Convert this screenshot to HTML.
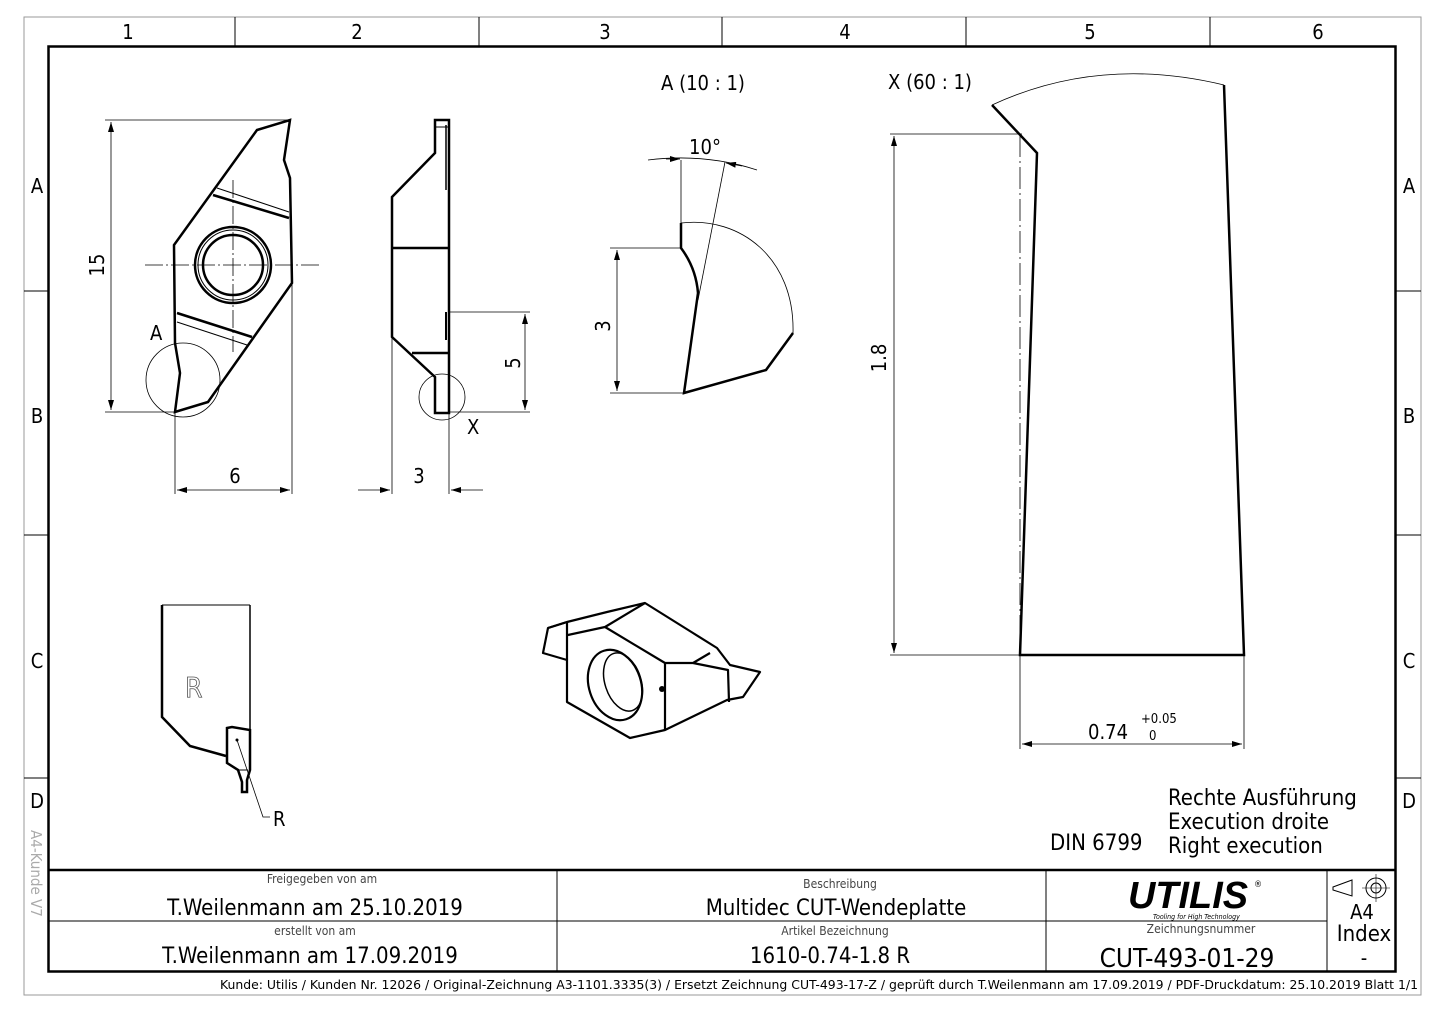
<!DOCTYPE html>
<html><head><meta charset="utf-8"><style>
html,body{margin:0;padding:0;background:#fff;}
svg{display:block;}
text{font-family:"Liberation Sans Narrow","DejaVu Sans Condensed","Liberation Sans",sans-serif;fill:#000;}
</style></head><body>
<svg width="1445" height="1022" viewBox="0 0 1445 1022" xmlns="http://www.w3.org/2000/svg">
<defs>
<marker id="ar" viewBox="0 0 10 6" refX="10" refY="3" markerWidth="10" markerHeight="6" orient="auto-start-reverse" markerUnits="userSpaceOnUse"><path d="M0,0 L10,3 L0,6 z" fill="#000"/></marker>
</defs>
<!-- frames -->
<rect x="24" y="17" width="1397" height="978" fill="none" stroke="#999" stroke-width="1"/>
<rect x="48.5" y="46.5" width="1347" height="925" fill="none" stroke="#000" stroke-width="2.5"/>
<g stroke="#000" stroke-width="1">
<line x1="235" y1="17" x2="235" y2="46"/><line x1="479" y1="17" x2="479" y2="46"/><line x1="722" y1="17" x2="722" y2="46"/><line x1="966" y1="17" x2="966" y2="46"/><line x1="1210" y1="17" x2="1210" y2="46"/>
<line x1="24" y1="291" x2="48" y2="291"/><line x1="24" y1="535" x2="48" y2="535"/><line x1="24" y1="778" x2="48" y2="778"/>
<line x1="1396" y1="291" x2="1421" y2="291"/><line x1="1396" y1="535" x2="1421" y2="535"/><line x1="1396" y1="778" x2="1421" y2="778"/>
</g>
<g font-size="20" text-anchor="middle">
<text x="128" y="39">1</text><text x="357" y="39">2</text><text x="605" y="39">3</text><text x="845" y="39">4</text><text x="1090" y="39">5</text><text x="1318" y="39">6</text>
<text x="37" y="193">A</text><text x="37" y="423">B</text><text x="37" y="668">C</text><text x="37" y="808">D</text>
<text x="1409" y="193">A</text><text x="1409" y="423">B</text><text x="1409" y="668">C</text><text x="1409" y="808">D</text>
</g>
<text x="0" y="0" font-size="15" fill="#aaa" style="fill:#aaa" transform="translate(31,830) rotate(90)">A4-Kunde V7</text>

<!-- Front view -->
<g fill="none" stroke="#000">
<path d="M290,120 L284,160 L290,178 L292,283 L208,402 L175,412 L180,373 L175,343 L174,245 L257,130 Z" stroke-width="2.5"/>
<line x1="213" y1="195" x2="289" y2="218" stroke-width="2.5"/>
<line x1="217" y1="188" x2="289" y2="212" stroke-width="1"/>
<line x1="177" y1="313" x2="252" y2="337" stroke-width="2.5"/>
<line x1="177" y1="322" x2="247" y2="345" stroke-width="1"/>
<circle cx="233" cy="265" r="38" stroke-width="2.5"/>
<circle cx="233" cy="265" r="35" stroke-width="1"/>
<circle cx="233" cy="265" r="30" stroke-width="2.5"/>
<line x1="145" y1="265" x2="320" y2="265" stroke-width="0.8" stroke-dasharray="18,3,2,3"/>
<line x1="233" y1="180" x2="233" y2="352" stroke-width="0.8" stroke-dasharray="18,3,2,3"/>
<circle cx="183" cy="380" r="37" stroke-width="0.8"/>
<g stroke-width="0.8">
<line x1="105" y1="120" x2="290" y2="120"/><line x1="105" y1="412" x2="175" y2="412"/>
<line x1="111" y1="122" x2="111" y2="410" marker-start="url(#ar)" marker-end="url(#ar)"/>
<line x1="175" y1="412" x2="175" y2="494"/><line x1="292" y1="283" x2="292" y2="494"/>
<line x1="177" y1="490" x2="290" y2="490" marker-start="url(#ar)" marker-end="url(#ar)"/>
</g>
</g>
<text x="150" y="340" font-size="20">A</text>
<text font-size="20" transform="translate(104,265) rotate(-90)" text-anchor="middle">15</text>
<text x="235" y="483" font-size="20" text-anchor="middle">6</text>

<!-- Side view -->
<g fill="none" stroke="#000">
<path d="M435,120 L449,120 L449,413 L435,413 L435,377 L392,337 L392,197 L435,153 Z" stroke-width="2.5"/>
<line x1="435" y1="127" x2="449" y2="127" stroke-width="1"/>
<line x1="392" y1="248" x2="449" y2="248" stroke-width="2.5"/>
<line x1="412" y1="353" x2="449" y2="353" stroke-width="2.5"/>
<line x1="446" y1="125" x2="446" y2="190" stroke-width="1.5"/>
<line x1="446" y1="312" x2="446" y2="340" stroke-width="2"/>
<circle cx="442" cy="397" r="23" stroke-width="0.8"/>
<g stroke-width="0.8">
<line x1="449" y1="312" x2="530" y2="312"/><line x1="449" y1="412" x2="530" y2="412"/>
<line x1="525" y1="314" x2="525" y2="410" marker-start="url(#ar)" marker-end="url(#ar)"/>
<line x1="392" y1="337" x2="392" y2="494"/><line x1="449" y1="413" x2="449" y2="494"/>
<line x1="358" y1="490" x2="390" y2="490" marker-end="url(#ar)"/>
<line x1="483" y1="490" x2="451" y2="490" marker-end="url(#ar)"/>
</g>
</g>
<text x="467" y="434" font-size="20">X</text>
<text font-size="20" transform="translate(520,363) rotate(-90)" text-anchor="middle">5</text>
<text x="419" y="483" font-size="20" text-anchor="middle">3</text>

<!-- Detail A -->
<text x="703" y="90" font-size="20" text-anchor="middle">A (10 : 1)</text>
<g fill="none" stroke="#000">
<path d="M681,223 L681,248 Q696,268 698,293 L684,393 L766,370 L793,333" stroke-width="2.5"/>
<path d="M681,223 C740,216 795,258 793,333" stroke-width="0.8"/>
<g stroke-width="0.8">
<line x1="681" y1="160" x2="681" y2="223"/>
<line x1="725" y1="162" x2="698" y2="300"/>
<path d="M648,160 Q705,153 757,170"/>
<line x1="666" y1="159" x2="680" y2="159" marker-end="url(#ar)"/>
<line x1="742" y1="166" x2="726" y2="163" marker-end="url(#ar)"/>
<line x1="610" y1="248" x2="681" y2="248"/><line x1="610" y1="393" x2="684" y2="393"/>
<line x1="617" y1="250" x2="617" y2="391" marker-start="url(#ar)" marker-end="url(#ar)"/>
</g>
</g>
<text x="705" y="154" font-size="20" text-anchor="middle">10°</text>
<text font-size="20" transform="translate(610,326) rotate(-90)" text-anchor="middle">3</text>

<!-- Detail X -->
<text x="930" y="89" font-size="20" text-anchor="middle">X (60 : 1)</text>
<g fill="none" stroke="#000">
<path d="M992,105 L1037,153 L1020,655 L1244,655 L1224,85" stroke-width="2.5"/>
<path d="M992,105 Q1100,55 1224,85" stroke-width="0.8"/>
<line x1="1020" y1="135" x2="1020" y2="650" stroke-width="0.8" stroke-dasharray="22,4,2,4"/>
<g stroke-width="0.8">
<line x1="890" y1="134" x2="1022" y2="134"/><line x1="890" y1="655" x2="1020" y2="655"/>
<line x1="894" y1="136" x2="894" y2="653" marker-start="url(#ar)" marker-end="url(#ar)"/>
<line x1="1020" y1="655" x2="1020" y2="749"/><line x1="1244" y1="655" x2="1244" y2="749"/>
<line x1="1022" y1="744" x2="1242" y2="744" marker-start="url(#ar)" marker-end="url(#ar)"/>
</g>
</g>
<text font-size="20" transform="translate(886,358) rotate(-90)" text-anchor="middle">1.8</text>
<text x="1088" y="739" font-size="20">0.74</text>
<text x="1141" y="723" font-size="13">+0.05</text>
<text x="1149" y="740" font-size="13">0</text>

<!-- Holder -->
<g fill="none" stroke="#000">
<line x1="162" y1="605" x2="250" y2="605" stroke-width="1"/>
<path d="M162,605 L162,717 L190,746 L226,756" stroke-width="2.5"/>
<line x1="250" y1="605" x2="250" y2="730" stroke-width="1.5"/>
<path d="M227,728 L232,727 L250,730 L250,770 L247,780 L247,792 L242,792 L242,782 L238,770 L227,763 Z" stroke-width="2.5"/>
<line x1="238" y1="770" x2="248" y2="770" stroke-width="1"/>
<path d="M237,740 L263,817 L270,817" stroke-width="0.8"/>
</g>
<circle cx="237" cy="740" r="1.5" fill="#000"/>
<text x="185" y="697" font-size="28" style="fill:#fff;stroke:#555;stroke-width:0.8">R</text>
<text x="273" y="826" font-size="20">R</text>

<!-- Iso view -->
<g fill="none" stroke="#000" stroke-width="2.2" stroke-linejoin="round">
<path d="M548,628 L543,653 L567,660 L567,702 L630,738 L665,730 L727,700 L743,697 L760,672 L730,665 L717,648 L693,633 L645,603 L607,612 L567,622 Z"/>
<path d="M567,622 L567,660 M568,635 L605,627 L665,663 L665,730 M605,627 L645,603 M665,663 L693,663 L710,653 M693,663 L728,670 L729,702 M567,622 L548,628"/>
<ellipse cx="615" cy="685" rx="26" ry="36" transform="rotate(-18 615 685)"/>
<ellipse cx="623" cy="682" rx="18" ry="30" transform="rotate(-18 623 682)" stroke-width="1.5"/>
</g>
<circle cx="662" cy="689" r="3" fill="#000"/>

<!-- notes -->
<text x="1168" y="805" font-size="22">Rechte Ausführung</text>
<text x="1168" y="829" font-size="22">Execution droite</text>
<text x="1168" y="853" font-size="22">Right execution</text>
<text x="1050" y="850" font-size="22">DIN 6799</text>

<!-- Title block -->
<g stroke="#000" fill="none">
<line x1="48" y1="870" x2="1396" y2="870" stroke-width="2.5"/>
<line x1="48" y1="921" x2="1327" y2="921" stroke-width="1"/>
<line x1="557" y1="870" x2="557" y2="972" stroke-width="1"/>
<line x1="1046" y1="870" x2="1046" y2="972" stroke-width="1"/>
<line x1="1327" y1="870" x2="1327" y2="972" stroke-width="1"/>
<path d="M1333,887 L1352,880 L1352,896 L1333,890 Z" stroke-width="1"/>
<circle cx="1376" cy="888" r="10" stroke-width="1"/><circle cx="1376" cy="888" r="5" stroke-width="1"/>
<line x1="1362" y1="888" x2="1390" y2="888" stroke-width="0.6"/><line x1="1376" y1="874" x2="1376" y2="902" stroke-width="0.6"/>
</g>
<g text-anchor="middle">
<text x="322" y="883" font-size="12" style="fill:#444">Freigegeben von am</text>
<text x="315" y="915" font-size="22">T.Weilenmann am 25.10.2019</text>
<text x="315" y="935" font-size="12" style="fill:#444">erstellt von am</text>
<text x="310" y="963" font-size="22">T.Weilenmann am 17.09.2019</text>
<text x="840" y="888" font-size="12" style="fill:#444">Beschreibung</text>
<text x="836" y="915" font-size="22">Multidec CUT-Wendeplatte</text>
<text x="835" y="935" font-size="12" style="fill:#444">Artikel Bezeichnung</text>
<text x="830" y="963" font-size="22">1610-0.74-1.8 R</text>
<text x="1201" y="933" font-size="12" style="fill:#444">Zeichnungsnummer</text>
<text x="1187" y="967" font-size="26">CUT-493-01-29</text>
<text x="1362" y="919" font-size="20">A4</text>
<text x="1364" y="941" font-size="22">Index</text>
<text x="1364" y="965" font-size="20">-</text>
</g>
<text x="1128" y="908" font-size="38" font-weight="bold" font-style="italic" textLength="120" lengthAdjust="spacingAndGlyphs" style="font-family:'Liberation Sans',sans-serif">UTILIS</text>
<text x="1254" y="887" font-size="9">®</text>
<text x="1153" y="919" font-size="7" font-style="italic">Tooling for High Technology</text>
<text x="220" y="989" font-size="12.5" textLength="1198" lengthAdjust="spacingAndGlyphs">Kunde: Utilis / Kunden Nr. 12026 /  Original-Zeichnung A3-1101.3335(3)     /     Ersetzt Zeichnung CUT-493-17-Z / geprüft durch T.Weilenmann am 17.09.2019 / PDF-Druckdatum: 25.10.2019  Blatt 1/1</text>
</svg>
</body></html>
